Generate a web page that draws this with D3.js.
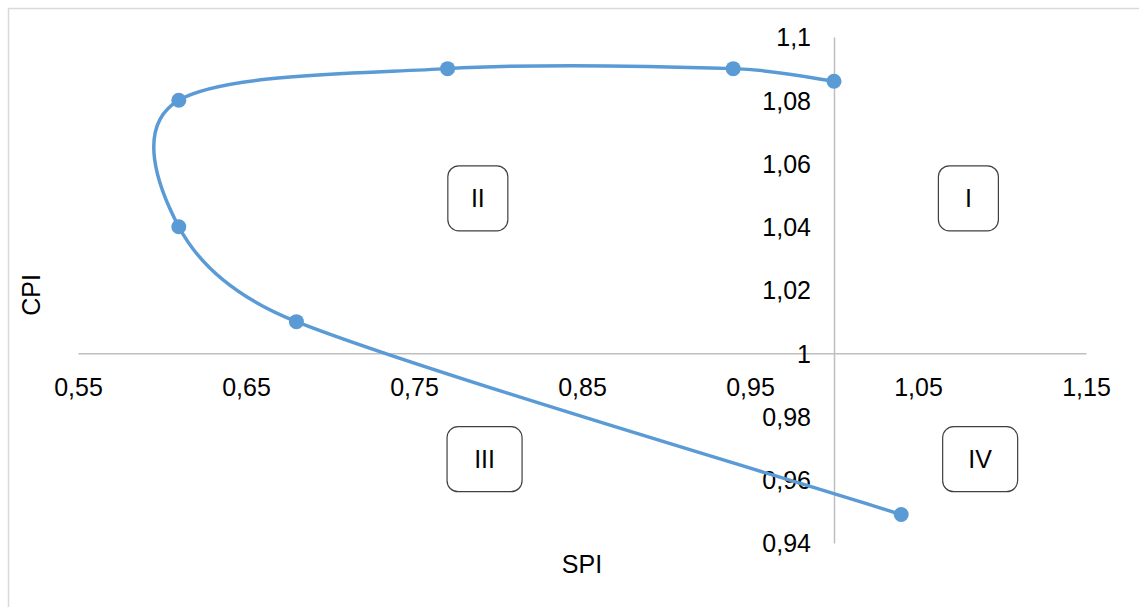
<!DOCTYPE html>
<html>
<head>
<meta charset="utf-8">
<script src="https://cdn.jsdelivr.net/npm/d3@7"></script>
<style>
  html, body { margin: 0; padding: 0; background: #fff; }
  svg { display: block; font-family: "Liberation Sans", Arial, sans-serif; }
</style>
</head>
<body>
<svg id="chart" width="1139" height="607"></svg>
<script>
// ---- data ----
const spi = [1.04, 0.68, 0.61, 0.61, 0.77, 0.94, 1.00];
const cpi = [0.949, 1.01, 1.04, 1.08, 1.09, 1.09, 1.086];
const xTicks = [0.55, 0.65, 0.75, 0.85, 0.95, 1.05, 1.15];
const yTicks = [0.94, 0.96, 0.98, 1.00, 1.02, 1.04, 1.06, 1.08, 1.10];
const quadrantNames = ["I", "II", "III", "IV"];
const quadrantSpi = [1.08, 0.788, 0.792, 1.087];
const quadrantCpi = [1.049, 1.049, 0.9665, 0.9665];
const xTitle = "SPI";
const yTitle = "CPI";

// ---- layout / style ----
const boxWidth = { "I": 60, "II": 60, "III": 75, "IV": 75 };
const boxHeight = 65;
const lineColor = "#5B9BD5";
const axisColor = "#BFBFBF";
const fontSize = 25;

// Spreadsheet-style smoothed curve (Catmull-Rom tangents, handle length limited by segment length)
function SmoothCurve(context) { this._context = context; }
SmoothCurve.prototype = {
  areaStart() { this._line = 0; },
  areaEnd() { this._line = NaN; },
  lineStart() { this._pts = []; },
  point(x, y) { this._pts.push([+x, +y]); },
  lineEnd() {
    const p = this._pts, n = p.length, ctx = this._context, k = 0.45;
    if (!n) return;
    ctx.moveTo(p[0][0], p[0][1]);
    const tan = i => {
      const a = p[Math.max(0, i - 1)], b = p[Math.min(n - 1, i + 1)];
      return [(b[0] - a[0]) / 6, (b[1] - a[1]) / 6];
    };
    const clamp = (t, len) => {
      const m = Math.hypot(t[0], t[1]);
      const lim = k * len;
      return m > lim && m > 0 ? [t[0] * lim / m, t[1] * lim / m] : t;
    };
    for (let i = 0; i < n - 1; i++) {
      const a = p[i], b = p[i + 1];
      const len = Math.hypot(b[0] - a[0], b[1] - a[1]);
      const ta = clamp(tan(i), len), tb = clamp(tan(i + 1), len);
      ctx.bezierCurveTo(a[0] + ta[0], a[1] + ta[1], b[0] - tb[0], b[1] - tb[1], b[0], b[1]);
    }
  }
};
const curveSmooth = ctx => new SmoothCurve(ctx);

const svg = d3.select("#chart");

svg.append("rect")
  .attr("x", 8.5).attr("y", 8.5)
  .attr("width", 1140).attr("height", 600)
  .attr("fill", "#fff").attr("stroke", "#D9D9D9").attr("stroke-width", 1.5);

const x = d3.scaleLinear().domain([0.55, 1.15]).range([78, 1086]);
const y = d3.scaleLinear().domain([0.94, 1.10]).range([543, 37]);

const fmt = d => String(+d.toFixed(2)).replace(".", ",");

// X axis (crosses at CPI = 1)
const gx = svg.append("g")
  .attr("transform", `translate(0,${y(1)})`)
  .call(d3.axisBottom(x).tickValues(xTicks).tickFormat(fmt).tickSize(0).tickSizeOuter(0));
gx.select(".domain").attr("stroke", axisColor).attr("stroke-width", 1.5);
gx.selectAll("text")
  .attr("y", 34).attr("dy", "0.35em")
  .attr("font-size", fontSize).attr("font-family", "Liberation Sans, Arial, sans-serif")
  .attr("fill", "#000");

// Y axis (crosses at SPI = 1)
const gy = svg.append("g")
  .attr("transform", `translate(${x(1)},0)`)
  .call(d3.axisLeft(y).tickValues(yTicks).tickFormat(fmt).tickSize(0).tickSizeOuter(0).tickPadding(23));
gy.select(".domain").attr("stroke", axisColor).attr("stroke-width", 1.5);
gy.selectAll("text")
  .attr("dy", "0.35em")
  .attr("font-size", fontSize).attr("font-family", "Liberation Sans, Arial, sans-serif")
  .attr("fill", "#000");

// Axis titles
svg.append("text")
  .attr("x", 582).attr("y", 564).attr("dy", "0.35em")
  .attr("text-anchor", "middle").attr("font-size", fontSize).attr("fill", "#000")
  .text(xTitle);
svg.append("text")
  .attr("transform", "translate(31,295) rotate(-90)")
  .attr("dy", "0.35em")
  .attr("text-anchor", "middle").attr("font-size", fontSize).attr("fill", "#000")
  .text(yTitle);

// Quadrant labels
const quads = quadrantNames.map((n, i) => ({ name: n, sx: quadrantSpi[i], cy: quadrantCpi[i] }));
const qg = svg.selectAll(".quad").data(quads).enter().append("g")
  .attr("transform", d => `translate(${x(d.sx)},${y(d.cy)})`);
qg.append("rect")
  .attr("x", d => -boxWidth[d.name] / 2).attr("y", -boxHeight / 2)
  .attr("width", d => boxWidth[d.name]).attr("height", boxHeight)
  .attr("rx", 11).attr("ry", 11)
  .attr("fill", "#fff").attr("stroke", "#404040").attr("stroke-width", 1.2);
qg.append("text")
  .attr("text-anchor", "middle").attr("dy", "0.35em")
  .attr("font-size", fontSize).attr("fill", "#000")
  .text(d => d.name);

// Series
const pts = spi.map((s, i) => ({ s, c: cpi[i] }));
const line = d3.line().x(d => x(d.s)).y(d => y(d.c)).curve(curveSmooth);
svg.append("path").datum(pts)
  .attr("d", line).attr("fill", "none")
  .attr("stroke", lineColor).attr("stroke-width", 3.5).attr("stroke-linecap", "round");
svg.selectAll(".pt").data(pts).enter().append("circle")
  .attr("cx", d => x(d.s)).attr("cy", d => y(d.c)).attr("r", 7.5)
  .attr("fill", lineColor);
</script>
</body>
</html>
